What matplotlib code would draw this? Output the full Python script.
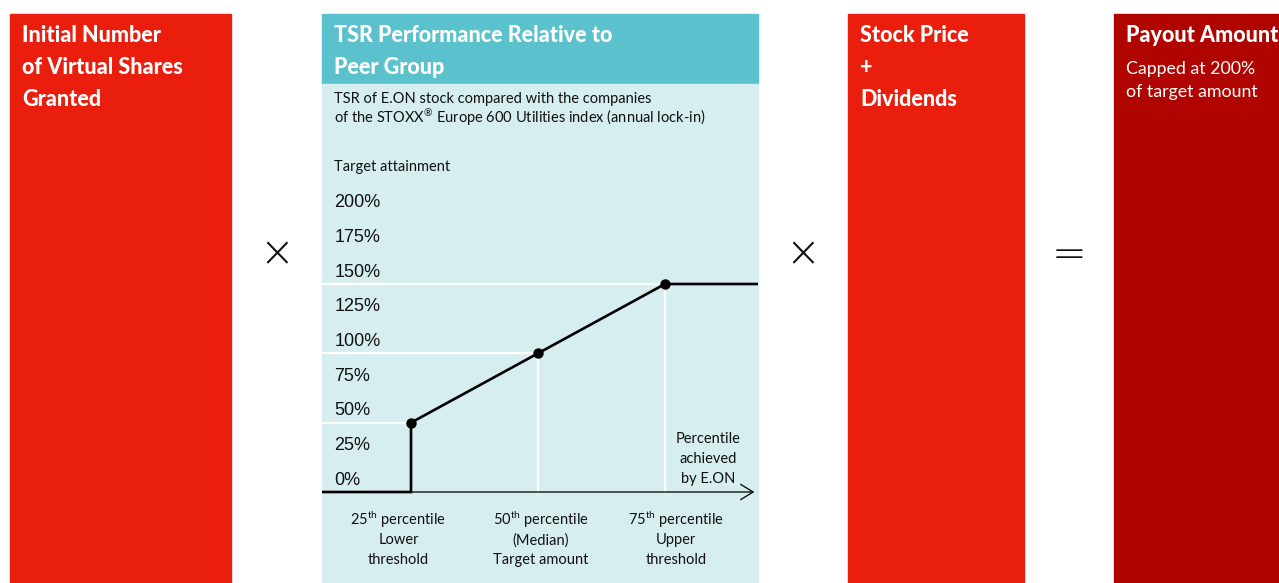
import matplotlib.pyplot as plt
import matplotlib.patches as mpatches

plt.rcParams['mathtext.fontset'] = 'custom'
plt.rcParams['mathtext.rm'] = 'Lato'
plt.rcParams['mathtext.it'] = 'Lato'

# data
percentiles = [25, 50, 75]
attainment = [50, 100, 150]
tick_levels = [0, 25, 50, 75, 100, 125, 150, 175, 200]
tick_labels = [f"{v}%" for v in tick_levels]
bottom_labels = [["25$^{\\mathrm{th}}$ percentile", "Lower", "threshold"],
                 ["50$^{\\mathrm{th}}$ percentile", "(Median)", "Target amount"],
                 ["75$^{\\mathrm{th}}$ percentile", "Upper", "threshold"]]

RED = '#E91E0C'
DARK = '#B00400'
TEAL = '#5BC1CC'
LIGHT = '#D6EEF0'

W, H = 1279, 583
fig = plt.figure(figsize=(W / 100, H / 100), dpi=100)
bg = fig.add_axes([0, 0, 1, 1])
bg.set_xlim(0, W)
bg.set_ylim(H, 0)
bg.axis('off')

# boxes
bg.add_patch(mpatches.Rectangle((10, 14), 221, 570, color=RED))
bg.add_patch(mpatches.Rectangle((322, 14), 436, 70, color=TEAL))
bg.add_patch(mpatches.Rectangle((322, 84), 436, 500, color=LIGHT))
bg.add_patch(mpatches.Rectangle((848, 14), 176, 570, color=RED))
bg.add_patch(mpatches.Rectangle((1114, 14), 170, 570, color=DARK))

hdr = dict(color='white', fontsize=15.5, fontweight='black', family='Lato', va='center', ha='left')
for i, s in enumerate(["Initial Number", "of Virtual Shares", "Granted"]):
    bg.text(22, 36 + i * 31.5, s, **hdr)
for i, s in enumerate(["TSR Performance Relative to", "Peer Group"]):
    bg.text(334, 36 + i * 31.5, s, **hdr)
for i, s in enumerate(["Stock Price", "+", "Dividends"]):
    bg.text(860, 36 + i * 31.5, s, **hdr)
bg.text(1126, 36, "Payout Amount", **hdr)
for i, s in enumerate(["Capped at 200%", "of target amount"]):
    bg.text(1126, 69 + i * 23, s, color='white', fontsize=12.8, family='Lato', va='center')

body = dict(color='#111111', fontsize=10.5, family='Lato', va='center', ha='left')
bg.text(334, 99, "TSR of E.ON stock compared with the companies", **body)
bg.text(334, 118, "of the STOXX$^{\\circledR}$ Europe 600 Utilities index (annual lock-in)", **body)
bg.text(334, 167, "Target attainment", **body)

op = dict(color='#111111', fontsize=30, family='DejaVu Sans', fontweight='light', ha='center', va='center')
bg.text(277, 254, "\u00d7", **op)
bg.text(803, 254, "\u00d7", **op)
bg.text(1069, 254, "=", **op)

# chart area
ax = fig.add_axes([322 / W, 0, 436 / W, 499 / H])
ax.set_facecolor('none')
px_x = (538 - 411) / 25
px_y = (492 - 284) / 150
x0, x1 = 25 - 89 / px_x, 75 + 93 / px_x
y0, y1 = -91 / px_y, 408 / px_y
ax.set_xlim(x0, x1)
ax.set_ylim(y0, y1)
ax.axis('off')

# white guide lines
for p, a in zip(percentiles, attainment):
    ax.plot([x0, p], [a, a], color='white', lw=1.6, zorder=1)
    if p != percentiles[0]:
        ax.plot([p, p], [0, a], color='white', lw=1.6, zorder=1)

# x axis arrow
ax.annotate("", xy=(x1 - 0.15, 0), xytext=(x0, 0),
            arrowprops=dict(arrowstyle='->,head_length=0.9,head_width=0.55', lw=1.0, color='#111111'),
            zorder=2)

# payout curve
lx = [x0, percentiles[0]] + percentiles + [x1]
ly = [0, 0] + attainment + [attainment[-1]]
ax.plot(lx, ly, color='black', lw=1.9, zorder=3, solid_joinstyle='miter')
ax.plot(percentiles, attainment, 'o', color='black', ms=6.5, zorder=4)

for v, lab in zip(tick_levels, tick_labels):
    ax.annotate(lab, xy=(x0, v), xytext=(9, 8.5), textcoords='offset points',
                fontsize=13, family='Liberation Sans', color='#111111', va='center', ha='left')

for p, lines, dx in zip(percentiles, bottom_labels, [-9, 2, 8]):
    for j, s in enumerate(lines):
        ax.annotate(s, xy=(p, 0), xytext=(dx, -20.2 - j * 14.4), textcoords='offset points',
                    fontsize=10.5, family='Lato', color='#111111', va='center', ha='center')

for j, s in enumerate(["Percentile", "achieved", "by E.ON"]):
    ax.annotate(s, xy=(x1, 0), xytext=(-36, 38.2 - j * 14.4), textcoords='offset points',
                fontsize=10.5, family='Lato', color='#111111', va='center', ha='center')

fig.savefig('out.png', dpi=100)
